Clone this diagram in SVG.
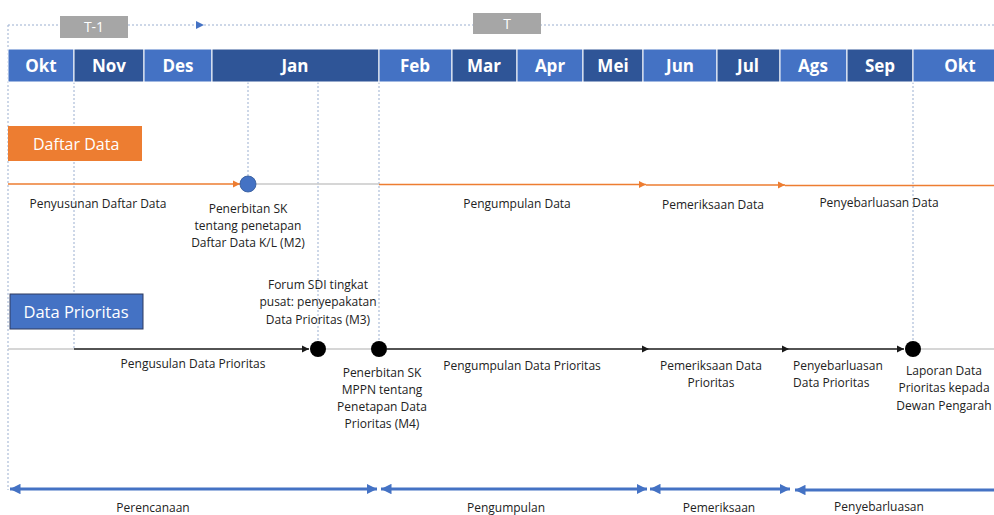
<svg xmlns="http://www.w3.org/2000/svg" width="994" height="515" viewBox="0 0 994 515">
<defs>
<style>
.m{font-family:"Open Sans","Noto Sans",sans-serif;font-weight:bold;font-size:17px;fill:#fff;text-anchor:middle}
.lt{fill:#4472C4;stroke:#fff;stroke-width:1}
.dk{fill:#2F5597;stroke:#fff;stroke-width:1}
.t{font-family:"Open Sans","Noto Sans",sans-serif;font-size:12px;fill:#222;text-anchor:middle}
.ts{font-family:"Open Sans","Noto Sans",sans-serif;font-size:12px;fill:#222}
.b{font-family:"Open Sans","Noto Sans",sans-serif;font-size:12px;fill:#222;text-anchor:middle}
.vd{stroke:#9BAFD0;stroke-width:1;stroke-dasharray:2 2;fill:none}
.gl{stroke:#C8C8C8;stroke-width:1.5;fill:none}
.ol{stroke:#ED7D31;stroke-width:1.5;fill:none}
.kl{stroke:#1a1a1a;stroke-width:1.5;fill:none}
.bl{stroke:#4472C4;stroke-width:3;fill:none}
</style>
<marker id="ao" viewBox="0 0 10 10" refX="10" refY="5" markerWidth="5" markerHeight="5" orient="auto" markerUnits="strokeWidth"><path d="M0,0L10,5L0,10z" fill="#ED7D31"/></marker>
<marker id="ak" viewBox="0 0 10 10" refX="10" refY="5" markerWidth="5" markerHeight="5" orient="auto" markerUnits="strokeWidth"><path d="M0,0L10,5L0,10z" fill="#1a1a1a"/></marker>
<marker id="ab" viewBox="0 0 10 10" refX="10" refY="5" markerWidth="3.5" markerHeight="3.5" orient="auto-start-reverse" markerUnits="strokeWidth"><path d="M0,0L10,5L0,10z" fill="#4472C4"/></marker>
<marker id="at" viewBox="0 0 10 10" refX="10" refY="5" markerWidth="8" markerHeight="8" orient="auto" markerUnits="userSpaceOnUse"><path d="M0,0L10,5L0,10z" fill="#4472C4"/></marker>
</defs>
<rect width="994" height="515" fill="#fff"/>

<g id="guides">
<path class="vd" d="M8,25V490"/>
<path class="vd" d="M8,25H994"/>
<path d="M8,25H204" fill="none" stroke="none" marker-end="url(#at)"/>
<path class="vd" d="M74,82V349"/>
<path class="vd" d="M248,82V176"/>
<path class="vd" d="M318,82V341"/>
<path class="vd" d="M379,82V341"/>
<path class="vd" d="M913,82V341"/>
</g>

<g id="period-T1"><rect x="60" y="16" width="68" height="22" fill="#A6A6A6"/><text x="94" y="32" font-family="Open Sans,sans-serif" font-size="14" fill="#fff" text-anchor="middle">T-1</text></g>
<g id="period-T"><rect x="473" y="13" width="68" height="21" fill="#A6A6A6"/><text x="507" y="29" font-family="Open Sans,sans-serif" font-size="14" fill="#fff" text-anchor="middle">T</text></g>

<g id="months">
<rect class="lt" x="8" y="49" width="66" height="33"/><text class="m" x="41" y="72">Okt</text>
<rect class="dk" x="74" y="49" width="70" height="33"/><text class="m" x="109" y="72">Nov</text>
<rect class="lt" x="144" y="49" width="68" height="33"/><text class="m" x="178" y="72">Des</text>
<rect class="dk" x="212" y="49" width="167" height="33"/><text class="m" x="295" y="72">Jan</text>
<rect class="lt" x="379" y="49" width="73" height="33"/><text class="m" x="415" y="72">Feb</text>
<rect class="dk" x="452" y="49" width="65" height="33"/><text class="m" x="484" y="72">Mar</text>
<rect class="lt" x="517" y="49" width="66" height="33"/><text class="m" x="550" y="72">Apr</text>
<rect class="dk" x="583" y="49" width="60" height="33"/><text class="m" x="613" y="72">Mei</text>
<rect class="lt" x="643" y="49" width="74" height="33"/><text class="m" x="680" y="72">Jun</text>
<rect class="dk" x="717" y="49" width="63" height="33"/><text class="m" x="748" y="72">Jul</text>
<rect class="lt" x="780" y="49" width="67" height="33"/><text class="m" x="813" y="72">Ags</text>
<rect class="dk" x="847" y="49" width="66" height="33"/><text class="m" x="880" y="72">Sep</text>
<rect class="lt" x="913" y="49" width="82" height="33"/><text class="m" x="960" y="72">Okt</text>
</g>

<g id="daftar-data-header"><rect x="8" y="126" width="134" height="35" fill="#ED7D31"/><text x="33" y="150" font-family="Open Sans,sans-serif" font-size="16" fill="#fff">Daftar Data</text></g>
<g id="data-prioritas-header"><rect x="10" y="294" width="133" height="35" fill="#4472C4" stroke="#2F3B5F" stroke-width="1"/><text x="76" y="318" font-family="Open Sans,sans-serif" font-size="16.5" fill="#fff" text-anchor="middle">Data Prioritas</text></g>

<g id="connectors">
<path class="ol" d="M8,184H240" marker-end="url(#ao)"/>
<path class="gl" d="M256,184H379"/>
<path class="ol" d="M379,184.5H646" marker-end="url(#ao)"/>
<path class="ol" d="M646,185H785" marker-end="url(#ao)"/>
<path class="ol" d="M785,185.5H994"/>
<path class="gl" d="M8,349H74"/>
<path class="kl" d="M74,349H309" marker-end="url(#ak)"/>
<path class="gl" d="M326,349H371"/>
<path class="kl" d="M387,349H649" marker-end="url(#ak)"/>
<path class="kl" d="M649,349H789" marker-end="url(#ak)"/>
<path class="kl" d="M789,349H904" marker-end="url(#ak)"/>
<path class="gl" d="M921,349H994"/>
<path class="bl" d="M10,489H377" marker-start="url(#ab)" marker-end="url(#ab)"/>
<path class="bl" d="M381,489H647" marker-start="url(#ab)" marker-end="url(#ab)"/>
<path class="bl" d="M650,489H790" marker-start="url(#ab)" marker-end="url(#ab)"/>
<path class="bl" d="M795,490H994" marker-start="url(#ab)"/>
</g>

<g id="m2"><circle cx="248" cy="184" r="8" fill="#4472C4" stroke="#2F5597" stroke-width="0.8"/></g>
<g id="m3"><circle cx="318" cy="349" r="8" fill="#000"/></g>
<g id="m4"><circle cx="379" cy="349" r="8" fill="#000"/></g>
<g id="m5"><circle cx="913" cy="349" r="8" fill="#000"/></g>

<g id="labels-daftar">
<text class="t" x="98" y="208">Penyusunan Daftar Data</text>
<text class="t" x="248" y="213">Penerbitan SK</text>
<text class="t" x="248" y="230">tentang penetapan</text>
<text class="t" x="248" y="247">Daftar Data K/L (M2)</text>
<text class="t" x="517" y="208">Pengumpulan Data</text>
<text class="t" x="713" y="209">Pemeriksaan Data</text>
<text class="t" x="879" y="207">Penyebarluasan Data</text>
</g>

<g id="labels-prioritas">
<text class="t" x="318" y="289">Forum SDI tingkat</text>
<text class="t" x="318" y="306">pusat: penyepakatan</text>
<text class="t" x="318" y="324">Data Prioritas (M3)</text>
<text class="t" x="193" y="368">Pengusulan Data Prioritas</text>
<text class="t" x="382" y="377">Penerbitan SK</text>
<text class="t" x="382" y="394">MPPN tentang</text>
<text class="t" x="382" y="411">Penetapan Data</text>
<text class="t" x="382" y="428">Prioritas (M4)</text>
<text class="t" x="522" y="370">Pengumpulan Data Prioritas</text>
<text class="t" x="711" y="370">Pemeriksaan Data</text>
<text class="t" x="711" y="387">Prioritas</text>
<text class="ts" x="793" y="370">Penyebarluasan</text>
<text class="ts" x="793" y="387">Data Prioritas</text>
<text class="t" x="944" y="375">Laporan Data</text>
<text class="t" x="944" y="392">Prioritas kepada</text>
<text class="t" x="944" y="410">Dewan Pengarah</text>
</g>

<g id="phases">
<text class="b" x="153" y="512">Perencanaan</text>
<text class="b" x="506" y="512">Pengumpulan</text>
<text class="b" x="719" y="512">Pemeriksaan</text>
<text class="b" x="879" y="511">Penyebarluasan</text>
</g>
</svg>
